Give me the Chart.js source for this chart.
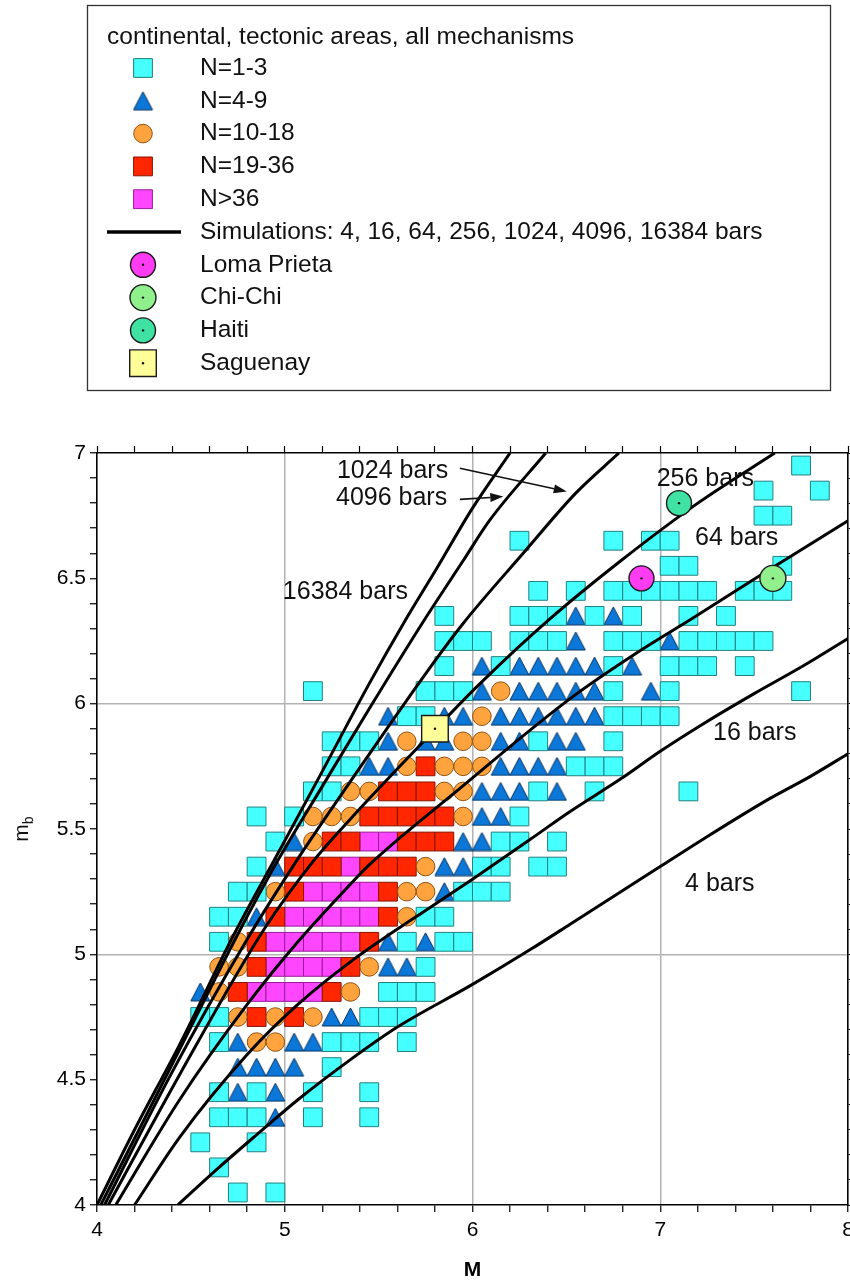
<!DOCTYPE html>
<html>
<head>
<meta charset="utf-8">
<title>mb versus M &ndash; continental, tectonic areas</title>
<script src="https://cdn.jsdelivr.net/npm/chart.js@4/dist/chart.umd.min.js"></script>
<style>
  html, body { margin: 0; padding: 0; background: #fff; }
  canvas { display: block; }
</style>
</head>
<body>
<canvas id="chart" width="850" height="1286"></canvas>
<script>
// ---------- axes ----------
const mRange = [4, 8];
const mbRange = [4, 7];
const mTickLabels = [4, 5, 6, 7, 8];
const mbTickLabels = [4, 4.5, 5, 5.5, 6, 6.5, 7];
const mGridLines = [5, 6, 7];
const mbGridLines = [5, 6];

// ---------- binned observations, [M, mb] at bin centres ----------
const binsN1to3 = [
  [7.75, 6.95],
  [7.55, 6.85], [7.85, 6.85],
  [7.55, 6.75], [7.65, 6.75],
  [6.25, 6.65], [6.75, 6.65], [6.95, 6.65], [7.05, 6.65],
  [7.05, 6.55], [7.15, 6.55], [7.65, 6.55],
  [6.35, 6.45], [6.55, 6.45], [6.75, 6.45], [6.85, 6.45], [6.95, 6.45], [7.05, 6.45],
  [7.15, 6.45], [7.25, 6.45], [7.45, 6.45], [7.55, 6.45], [7.65, 6.45],
  [5.85, 6.35], [6.25, 6.35], [6.35, 6.35], [6.45, 6.35], [6.65, 6.35], [6.85, 6.35],
  [7.15, 6.35], [7.35, 6.35],
  [5.85, 6.25], [5.95, 6.25], [6.05, 6.25], [6.25, 6.25], [6.35, 6.25], [6.45, 6.25],
  [6.75, 6.25], [6.85, 6.25], [6.95, 6.25], [7.15, 6.25], [7.25, 6.25], [7.35, 6.25],
  [7.45, 6.25], [7.55, 6.25],
  [5.85, 6.15], [6.15, 6.15], [6.75, 6.15], [7.05, 6.15], [7.15, 6.15], [7.25, 6.15], [7.45, 6.15],
  [5.15, 6.05], [5.75, 6.05], [5.85, 6.05], [5.95, 6.05], [6.75, 6.05], [7.05, 6.05], [7.75, 6.05],
  [5.65, 5.95], [5.75, 5.95], [6.75, 5.95], [6.85, 5.95], [6.95, 5.95], [7.05, 5.95],
  [5.25, 5.85], [5.35, 5.85], [5.45, 5.85], [6.35, 5.85], [6.75, 5.85],
  [5.25, 5.75], [5.35, 5.75], [6.55, 5.75], [6.65, 5.75], [6.75, 5.75],
  [5.15, 5.65], [5.25, 5.65], [6.35, 5.65], [6.65, 5.65], [7.15, 5.65],
  [4.85, 5.55], [5.05, 5.55], [6.25, 5.55],
  [4.95, 5.45], [6.15, 5.45], [6.25, 5.45], [6.45, 5.45],
  [4.85, 5.35], [6.05, 5.35], [6.15, 5.35], [6.35, 5.35], [6.45, 5.35],
  [4.75, 5.25], [4.85, 5.25], [5.95, 5.25], [6.05, 5.25], [6.15, 5.25],
  [4.65, 5.15], [4.75, 5.15], [5.75, 5.15], [5.85, 5.15],
  [4.65, 5.05], [5.65, 5.05], [5.85, 5.05], [5.95, 5.05],
  [5.75, 4.95],
  [5.55, 4.85], [5.65, 4.85], [5.75, 4.85],
  [4.55, 4.75], [4.65, 4.75], [5.45, 4.75], [5.55, 4.75], [5.65, 4.75],
  [4.65, 4.65], [5.25, 4.65], [5.35, 4.65], [5.45, 4.65], [5.65, 4.65],
  [5.25, 4.55],
  [4.65, 4.45], [4.85, 4.45], [5.15, 4.45], [5.45, 4.45],
  [4.65, 4.35], [4.75, 4.35], [4.85, 4.35], [5.15, 4.35], [5.45, 4.35],
  [4.55, 4.25], [4.85, 4.25],
  [4.65, 4.15],
  [4.75, 4.05], [4.95, 4.05]
];
const binsN4to9 = [
  [6.55, 6.35], [6.75, 6.35],
  [6.55, 6.25], [7.05, 6.25],
  [6.05, 6.15], [6.25, 6.15], [6.35, 6.15], [6.45, 6.15], [6.55, 6.15], [6.65, 6.15], [6.85, 6.15],
  [6.05, 6.05], [6.25, 6.05], [6.35, 6.05], [6.45, 6.05], [6.55, 6.05], [6.65, 6.05], [6.95, 6.05],
  [5.55, 5.95], [5.85, 5.95], [5.95, 5.95], [6.15, 5.95], [6.25, 5.95], [6.35, 5.95],
  [6.45, 5.95], [6.55, 5.95], [6.65, 5.95],
  [5.55, 5.85], [5.75, 5.85], [5.85, 5.85], [6.15, 5.85], [6.25, 5.85], [6.45, 5.85], [6.55, 5.85],
  [5.45, 5.75], [5.55, 5.75], [6.15, 5.75], [6.25, 5.75], [6.35, 5.75], [6.45, 5.75],
  [6.05, 5.65], [6.15, 5.65], [6.25, 5.65], [6.45, 5.65],
  [6.05, 5.55], [6.15, 5.55],
  [5.05, 5.45], [5.95, 5.45], [6.05, 5.45],
  [4.95, 5.35], [5.85, 5.35], [5.95, 5.35],
  [5.85, 5.25],
  [4.85, 5.15],
  [5.55, 5.05], [5.75, 5.05],
  [5.55, 4.95], [5.65, 4.95],
  [4.55, 4.85],
  [5.25, 4.75], [5.35, 4.75],
  [4.75, 4.65], [5.05, 4.65], [5.15, 4.65],
  [4.75, 4.55], [4.85, 4.55], [4.95, 4.55], [5.05, 4.55],
  [4.75, 4.45], [4.95, 4.45],
  [4.95, 4.35]
];
const binsN10to18 = [
  [6.15, 6.05],
  [6.05, 5.95],
  [5.65, 5.85], [5.95, 5.85], [6.05, 5.85],
  [5.65, 5.75], [5.85, 5.75], [5.95, 5.75], [6.05, 5.75],
  [5.35, 5.65], [5.45, 5.65], [5.85, 5.65], [5.95, 5.65],
  [5.15, 5.55], [5.25, 5.55], [5.35, 5.55], [5.95, 5.55],
  [5.15, 5.45],
  [5.75, 5.35],
  [4.95, 5.25], [5.65, 5.25], [5.75, 5.25],
  [5.65, 5.15],
  [4.75, 5.05],
  [4.65, 4.95], [4.75, 4.95], [5.45, 4.95],
  [4.65, 4.85], [5.35, 4.85],
  [4.75, 4.75], [4.95, 4.75], [5.15, 4.75],
  [4.85, 4.65], [4.95, 4.65]
];
const binsN19to36 = [
  [5.75, 5.75],
  [5.55, 5.65], [5.65, 5.65], [5.75, 5.65],
  [5.45, 5.55], [5.55, 5.55], [5.65, 5.55], [5.75, 5.55], [5.85, 5.55],
  [5.25, 5.45], [5.35, 5.45], [5.65, 5.45], [5.75, 5.45], [5.85, 5.45],
  [5.05, 5.35], [5.15, 5.35], [5.25, 5.35], [5.45, 5.35], [5.55, 5.35], [5.65, 5.35],
  [5.05, 5.25], [5.55, 5.25],
  [4.95, 5.15], [5.55, 5.15],
  [4.85, 5.05], [5.45, 5.05],
  [4.85, 4.95], [5.35, 4.95],
  [4.75, 4.85], [5.25, 4.85],
  [4.85, 4.75], [5.05, 4.75]
];
const binsN37up = [
  [5.45, 5.45], [5.55, 5.45],
  [5.35, 5.35],
  [5.15, 5.25], [5.25, 5.25], [5.35, 5.25], [5.45, 5.25],
  [5.05, 5.15], [5.15, 5.15], [5.25, 5.15], [5.35, 5.15], [5.45, 5.15],
  [4.95, 5.05], [5.05, 5.05], [5.15, 5.05], [5.25, 5.05], [5.35, 5.05],
  [4.95, 4.95], [5.05, 4.95], [5.15, 4.95], [5.25, 4.95],
  [4.85, 4.85], [4.95, 4.85], [5.05, 4.85], [5.15, 4.85]
];

// ---------- simulated mb-M relations, one curve per bar count ----------
const simBars = [4, 16, 64, 256, 1024, 4096, 16384];
const sim4 = [[4.43, 4.0], [4.65, 4.15], [4.85, 4.28], [5.07, 4.42], [5.35, 4.58], [5.6, 4.71],
  [6.0, 4.88], [6.31, 5.02], [6.52, 5.12], [6.79, 5.25], [7.0, 5.35], [7.23, 5.46],
  [7.58, 5.62], [7.8, 5.71], [8.0, 5.8]];
const sim16 = [[4.2, 4.0], [4.44, 4.27], [4.8, 4.6], [5.07, 4.8], [5.35, 4.97], [5.82, 5.21],
  [6.0, 5.3], [6.31, 5.46], [6.52, 5.57], [6.79, 5.7], [7.0, 5.81], [7.23, 5.92],
  [7.5, 6.04], [7.76, 6.15], [8.0, 6.26]];
const sim64 = [[4.1, 4.0], [4.44, 4.42], [4.8, 4.8], [5.07, 5.05], [5.35, 5.28], [5.44, 5.35],
  [5.93, 5.66], [6.52, 6.02], [6.89, 6.21], [7.17, 6.34], [7.55, 6.52], [8.0, 6.73]];
const sim256 = [[4.06, 4.0], [4.44, 4.52], [4.89, 5.1], [5.15, 5.37], [5.35, 5.54], [5.6, 5.74],
  [5.83, 5.92], [6.04, 6.08], [6.4, 6.33], [6.79, 6.57], [7.2, 6.8], [7.61, 7.0]];
const sim1024 = [[4.04, 4.0], [4.4, 4.53], [4.8, 5.06], [5.06, 5.37], [5.35, 5.69], [5.77, 6.14],
  [5.95, 6.32], [6.27, 6.6], [6.55, 6.84], [6.78, 7.0]];
const sim4096 = [[4.02, 4.0], [4.44, 4.62], [4.75, 5.08], [4.96, 5.37], [5.2, 5.67], [5.45, 5.98],
  [5.74, 6.33], [5.95, 6.57], [6.09, 6.73], [6.39, 7.0]];
const sim16384 = [[4.0, 4.0], [4.2, 4.3], [4.44, 4.64], [4.73, 5.08], [4.94, 5.37], [5.2, 5.73],
  [5.45, 6.08], [5.64, 6.33], [5.81, 6.54], [6.0, 6.78], [6.2, 7.0]];
const simCurves = [sim4, sim16, sim64, sim256, sim1024, sim4096, sim16384];

// ---------- individual earthquakes ----------
const eventNames = ['Loma Prieta', 'Chi-Chi', 'Haiti', 'Saguenay'];
const eventM = [6.9, 7.6, 7.1, 5.8];
const eventMb = [6.5, 6.5, 6.8, 5.9];

// ---------- presentation ----------
const FONT = '"Liberation Sans", Arial, Helvetica, sans-serif';
Chart.defaults.font.family = FONT;
Chart.defaults.color = '#000';

function triangleMarker(fill, stroke) {
  const w = 19, h = 18;
  const cv = document.createElement('canvas');
  cv.width = w + 2; cv.height = h + 2;
  const g = cv.getContext('2d');
  g.beginPath();
  g.moveTo(cv.width / 2, 1);
  g.lineTo(w + 1, h + 1);
  g.lineTo(1, h + 1);
  g.closePath();
  g.fillStyle = fill; g.fill();
  g.lineWidth = 1; g.strokeStyle = stroke; g.stroke();
  return cv;
}

const toXY = pts => pts.map(([x, y]) => ({ x, y }));
const near = (v, list) => list.some(t => Math.abs(t - v) < 1e-6);

const classes = [
  { label: 'N=1-3',   pts: binsN1to3,   style: 'rect',   r: 13.3, fill: '#46ffff', line: '#21807e' },
  { label: 'N=4-9',   pts: binsN4to9,   style: triangleMarker('#0b78d9', '#07325f'), r: 10, fill: '#0b78d9', line: '#07325f' },
  { label: 'N=10-18', pts: binsN10to18, style: 'circle', r: 9.3,  fill: '#ffa33f', line: '#8e5311' },
  { label: 'N=19-36', pts: binsN19to36, style: 'rect',   r: 13.3, fill: '#ff2600', line: '#861400' },
  { label: 'N>36',    pts: binsN37up,   style: 'rect',   r: 13.3, fill: '#ff46ff', line: '#981c98' }
];
const eventLook = {
  'Loma Prieta': { style: 'circle', r: 12.5, fill: '#ff3cf2' },
  'Chi-Chi':     { style: 'circle', r: 13,   fill: '#8ff08c' },
  'Haiti':       { style: 'circle', r: 12.5, fill: '#3fe2a2' },
  'Saguenay':    { style: 'rect',   r: 18.8, fill: '#ffff9a' }
};

const datasets = [];
eventNames.forEach((name, i) => {
  const s = eventLook[name];
  datasets.push({
    label: name, group: 'event', order: 0,
    data: [{ x: eventM[i], y: eventMb[i] }],
    pointStyle: s.style, pointRadius: s.r, pointHoverRadius: s.r,
    backgroundColor: s.fill, borderColor: '#1a1a1a', borderWidth: 1.4
  });
});
simCurves.forEach((curve, i) => {
  datasets.push({
    label: simBars[i] + ' bars', group: 'sim', order: 1,
    data: toXY(curve), showLine: true, pointRadius: 0, pointHoverRadius: 0,
    borderColor: '#000', borderWidth: 3, cubicInterpolationMode: 'monotone', fill: false
  });
});
classes.forEach(c => {
  datasets.push({
    label: c.label, group: 'class', order: 2,
    data: toXY(c.pts), pointStyle: c.style, pointRadius: c.r, pointHoverRadius: c.r,
    backgroundColor: c.fill, borderColor: c.line, borderWidth: 1
  });
});

// curve annotations, anchored in data units
const curveLabels = [
  { text: '16384 bars', at: [4.99, 6.447] },
  { text: '4096 bars',  at: [5.273, 6.819], arrow: [[5.933, 6.815], [6.164, 6.826]] },
  { text: '1024 bars',  at: [5.278, 6.929], arrow: [[5.933, 6.939], [6.502, 6.846]] },
  { text: '256 bars',   at: [6.981, 6.895] },
  { text: '64 bars',    at: [7.185, 6.66] },
  { text: '16 bars',    at: [7.281, 5.882] },
  { text: '4 bars',     at: [7.132, 5.282] }
];

const curveLabelPlugin = {
  id: 'curveLabels',
  afterDatasetsDraw(chart) {
    const { ctx, scales: { x, y } } = chart;
    ctx.save();
    ctx.fillStyle = '#111';
    ctx.strokeStyle = '#111';
    ctx.font = '25px ' + FONT;
    ctx.textAlign = 'left';
    ctx.textBaseline = 'middle';
    curveLabels.forEach(l => {
      ctx.fillText(l.text, x.getPixelForValue(l.at[0]), y.getPixelForValue(l.at[1]));
      if (l.arrow) {
        const x0 = x.getPixelForValue(l.arrow[0][0]), y0 = y.getPixelForValue(l.arrow[0][1]);
        const x1 = x.getPixelForValue(l.arrow[1][0]), y1 = y.getPixelForValue(l.arrow[1][1]);
        const a = Math.atan2(y1 - y0, x1 - x0);
        const len = 13, hw = 4.5;
        const bx = x1 - len * Math.cos(a), by = y1 - len * Math.sin(a);
        ctx.lineWidth = 1.6;
        ctx.beginPath(); ctx.moveTo(x0, y0); ctx.lineTo(bx, by); ctx.stroke();
        ctx.beginPath();
        ctx.moveTo(x1, y1);
        ctx.lineTo(bx + hw * Math.sin(a), by - hw * Math.cos(a));
        ctx.lineTo(bx - hw * Math.sin(a), by + hw * Math.cos(a));
        ctx.closePath(); ctx.fill();
      }
    });
    // centre dots of the individual earthquakes
    chart.data.datasets.forEach((ds, i) => {
      if (ds.group !== 'event') return;
      chart.getDatasetMeta(i).data.forEach(el => {
        ctx.beginPath(); ctx.arc(el.x, el.y, 1.2, 0, Math.PI * 2); ctx.fill();
      });
    });
    ctx.restore();
  }
};

// y-axis title m_b, drawn with a true subscript
const yTitlePlugin = {
  id: 'yTitle',
  afterDraw(chart) {
    const { ctx, chartArea } = chart;
    ctx.save();
    ctx.translate(22, (chartArea.top + chartArea.bottom) / 2);
    ctx.rotate(-Math.PI / 2);
    ctx.fillStyle = '#111';
    ctx.textBaseline = 'alphabetic';
    ctx.textAlign = 'left';
    ctx.font = '21px ' + FONT;
    const mw = ctx.measureText('m').width;
    ctx.font = '14px ' + FONT;
    const bw = ctx.measureText('b').width;
    const x0 = -(mw + bw) / 2;
    ctx.font = '21px ' + FONT;
    ctx.fillText('m', x0, 6);
    ctx.font = '14px ' + FONT;
    ctx.fillText('b', x0 + mw, 11);
    ctx.restore();
  }
};

// boxed legend above the plot
const legendLayout = { box: [87.5, 5.5, 743, 385], title: [107, 37], symbolX: 143, textX: 200,
  firstRow: 68, rowStep: 32.8, fontSize: 24.5 };
const legendBoxPlugin = {
  id: 'legendBox',
  afterDraw(chart) {
    const { ctx } = chart;
    const L = legendLayout;
    const dsets = chart.data.datasets;
    const rows = [];
    dsets.filter(d => d.group === 'class').forEach(d => rows.push({ kind: 'point', ds: d, text: d.label }));
    rows.push({ kind: 'line', text: 'Simulations: ' + simBars.join(', ') + ' bars' });
    dsets.filter(d => d.group === 'event').forEach(d => rows.push({ kind: 'point', ds: d, text: d.label, dot: true }));

    ctx.save();
    ctx.lineWidth = 1.3;
    ctx.strokeStyle = '#333';
    ctx.strokeRect(L.box[0], L.box[1], L.box[2], L.box[3]);
    ctx.font = L.fontSize + 'px ' + FONT;
    ctx.fillStyle = '#111';
    ctx.textAlign = 'left';
    ctx.textBaseline = 'middle';
    ctx.fillText('continental, tectonic areas, all mechanisms', L.title[0], L.title[1]);
    rows.forEach((row, i) => {
      const y = L.firstRow + i * L.rowStep;
      if (row.kind === 'line') {
        ctx.lineWidth = 3.5; ctx.strokeStyle = '#000';
        ctx.beginPath(); ctx.moveTo(107, y); ctx.lineTo(181, y); ctx.stroke();
      } else {
        const d = row.ds;
        ctx.fillStyle = d.backgroundColor;
        ctx.strokeStyle = d.borderColor;
        ctx.lineWidth = d.borderWidth;
        Chart.helpers.drawPoint(ctx, { pointStyle: d.pointStyle, radius: d.pointRadius, rotation: 0,
          borderWidth: d.borderWidth }, L.symbolX, y);
        if (row.dot) {
          ctx.fillStyle = '#111';
          ctx.beginPath(); ctx.arc(L.symbolX, y, 1.2, 0, Math.PI * 2); ctx.fill();
        }
      }
      ctx.fillStyle = '#111';
      ctx.font = L.fontSize + 'px ' + FONT;
      ctx.fillText(row.text, L.textX, y);
    });
    ctx.restore();
  }
};

const tickFont = { family: FONT, size: 21 };
const gridOn = list => c => (c.tick && near(c.tick.value, list)) ? '#b3b3b3' : 'rgba(0,0,0,0)';
const frame = { display: true, color: '#000', width: 1.6 };
const tickMarks = { tickColor: '#000', tickLength: 7, tickWidth: 1.2, drawTicks: true };

new Chart(document.getElementById('chart'), {
  type: 'scatter',
  data: { datasets },
  options: {
    responsive: false,
    animation: false,
    devicePixelRatio: 1,
    events: [],
    layout: { autoPadding: false, padding: { top: 445, left: 0, right: 0, bottom: 0 } },
    plugins: { legend: { display: false }, tooltip: { enabled: false } },
    scales: {
      x: {
        type: 'linear', position: 'bottom', min: mRange[0], max: mRange[1],
        ticks: { stepSize: 0.2, maxTicksLimit: 1000, autoSkip: false, maxRotation: 0, minRotation: 0,
          padding: 6, font: tickFont, color: '#000',
          callback: v => near(v, mTickLabels) ? String(Math.round(v)) : '' },
        grid: Object.assign({ color: gridOn(mGridLines), lineWidth: 1.5 }, tickMarks),
        border: frame,
        title: { display: true, text: 'M', color: '#000', font: { family: FONT, size: 21, weight: 'bold' },
          padding: { top: 0, bottom: 3 } },
        afterFit: s => { s.height = 81; s.paddingLeft = 0; s.paddingRight = 0; }
      },
      xTop: {
        type: 'linear', position: 'top', min: mRange[0], max: mRange[1],
        ticks: { stepSize: 0.2, maxTicksLimit: 1000, autoSkip: false, display: false },
        grid: Object.assign({ drawOnChartArea: false, color: 'rgba(0,0,0,0)' }, tickMarks),
        border: frame,
        afterFit: s => { s.height = 8; s.paddingLeft = 0; s.paddingRight = 0; }
      },
      y: {
        type: 'linear', position: 'left', min: mbRange[0], max: mbRange[1],
        ticks: { stepSize: 0.1, maxTicksLimit: 1000, autoSkip: false, padding: 4, font: tickFont, color: '#000',
          callback: v => near(v, mbTickLabels) ? String(Math.round(v * 10) / 10) : '' },
        grid: Object.assign({ color: gridOn(mbGridLines), lineWidth: 1.5 }, tickMarks),
        border: frame,
        afterFit: s => { s.width = 97; s.paddingTop = 0; s.paddingBottom = 0; }
      },
      yRight: {
        type: 'linear', position: 'right', min: mbRange[0], max: mbRange[1],
        ticks: { stepSize: 0.1, maxTicksLimit: 1000, autoSkip: false, display: false },
        grid: Object.assign({ drawOnChartArea: false, color: 'rgba(0,0,0,0)' }, tickMarks),
        border: frame,
        afterFit: s => { s.width = 2; s.paddingTop = 0; s.paddingBottom = 0; }
      }
    }
  },
  plugins: [curveLabelPlugin, yTitlePlugin, legendBoxPlugin]
});
</script>
</body>
</html>
